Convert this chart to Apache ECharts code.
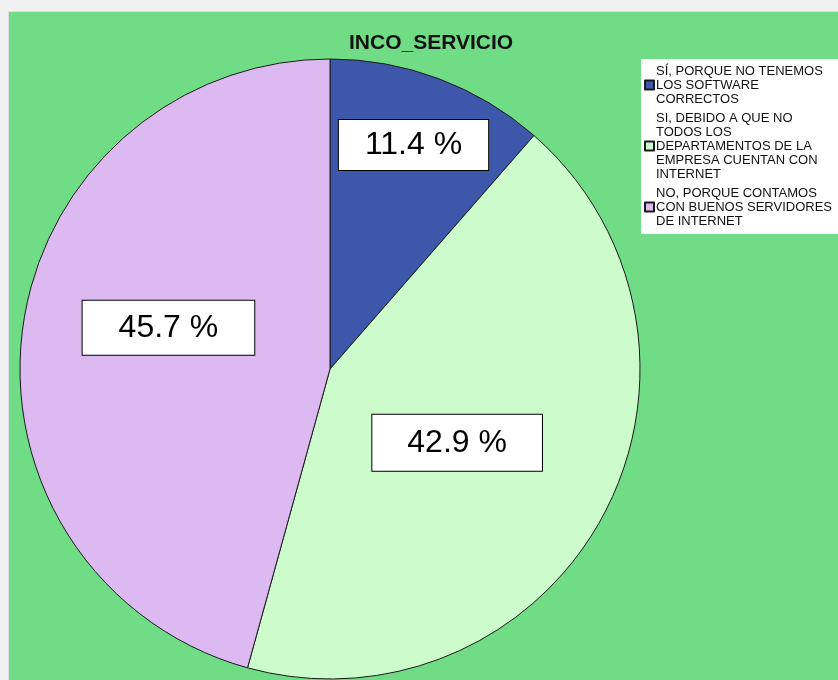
<!DOCTYPE html>
<html>
<head>
<meta charset="utf-8">
<script src="https://cdn.jsdelivr.net/npm/echarts@6/dist/echarts.min.js"></script>
<style>
  html, body { margin: 0; padding: 0; background: #f1f1f1; }
  #chart1 { position: absolute; left: 8px; top: 11px; width: 830px; height: 669px;
            border-left: 1px solid #dcdcdc; border-top: 1px solid #dcdcdc; }
</style>
</head>
<body>
<div id="chart1"></div>
<script>
var categories = [
    'SÍ, PORQUE NO TENEMOS\nLOS SOFTWARE\nCORRECTOS',
    'SI, DEBIDO A QUE NO\nTODOS LOS\nDEPARTAMENTOS DE LA\nEMPRESA CUENTAN CON\nINTERNET',
    'NO, PORQUE CONTAMOS\nCON BUENOS SERVIDORES\nDE INTERNET'
];
var counts = [4, 15, 16];
var colors = ['#3d58aa', '#ccfbcc', '#ddb9f1'];
// nudges for the percent boxes
var labelShift = [[28, -76], [-12, -1], [-5, -20]];
var labelPad = [[9, 26], [12, 35], [11, 36]];

var myChart1 = echarts.init(document.getElementById('chart1'));
myChart1.setOption({
    backgroundColor: '#70dd86',
    textStyle: { fontFamily: 'Arial, "Liberation Sans", sans-serif' },
    title: {
        text: 'INCO_SERVICIO',
        left: 335,
        top: 16,
        textStyle: { fontSize: 21, fontWeight: 'bold', color: '#111' }
    },
    legend: {
        orient: 'vertical',
        left: 632,
        top: 47,
        padding: [5, 20, 6, 3],
        backgroundColor: '#fff',
        itemWidth: 9,
        itemHeight: 9,
        itemGap: 5,
        icon: 'rect',
        data: categories,
        textStyle: { fontSize: 13, lineHeight: 14, color: '#111', padding: [0, 0, 0, -3] }
    },
    series: [{
        type: 'pie',
        center: [321, 357],
        radius: 310,
        startAngle: 90,
        animation: false,
        silent: true,
        itemStyle: { borderColor: '#1a1a1a', borderWidth: 1 },
        label: {
            position: 'inside',
            formatter: function (p) { return p.percent.toFixed(1) + ' %'; },
            fontSize: 32,
            color: '#000',
            backgroundColor: '#fff',
            borderColor: '#000',
            borderWidth: 1
        },
        labelLayout: function (p) {
            var s = labelShift[p.dataIndex];
            return { dx: s[0], dy: s[1] };
        },
        data: categories.map(function (name, i) {
            return {
                name: name,
                value: counts[i],
                itemStyle: { color: colors[i] },
                label: { padding: labelPad[i] }
            };
        })
    }]
});
</script>
</body>
</html>
